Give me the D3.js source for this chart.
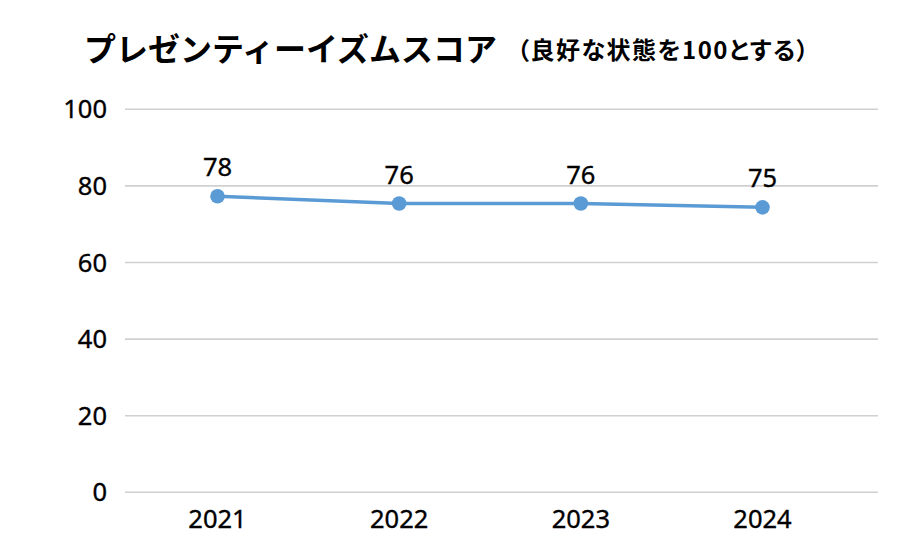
<!DOCTYPE html>
<html><head><meta charset="utf-8">
<script src="https://cdn.jsdelivr.net/npm/d3@7"></script>
<style>body{margin:0;background:#fff}svg{display:block}</style>
</head><body>
<svg id="c" width="900" height="552"></svg>
<script>
const categories = ["2021","2022","2023","2024"];
const values = [77.3, 75.4, 75.4, 74.4];
const valueLabels = ["78","76","76","75"];
const yTicks = [0,20,40,60,80,100];
const titleMain = "プレゼンティーイズムスコア";
const titleSub = "（良好な状態を100とする）";

const svg = d3.select("#c");
const x = d3.scalePoint().domain(categories).range([217.5, 762.5]);
const y = d3.scaleLinear().domain([0,100]).range([492.3,109.3]);
const gridL = 125, gridR = 878;
const numFont = "'Noto Sans', 'Open Sans', sans-serif";

function numText(sel){
  sel.attr("font-family", numFont).attr("font-size", 25.5)
    .attr("fill","#000").attr("stroke","#000").attr("stroke-width",0.35);
}

svg.append("g").selectAll("line").data(yTicks).join("line")
  .attr("x1", gridL).attr("x2", gridR)
  .attr("y1", d=>y(d)).attr("y2", d=>y(d))
  .attr("stroke", "#d0d0d0").attr("stroke-width", 1.6);

svg.append("g").selectAll("text").data(yTicks).join("text")
  .attr("x", 107).attr("y", d=>y(d)).attr("dy","0.36em")
  .attr("text-anchor","end").call(numText).text(d=>d);

svg.append("g").selectAll("text").data(categories).join("text")
  .attr("x", d=>x(d)).attr("y", 528)
  .attr("text-anchor","middle").call(numText).text(d=>d);

const line = d3.line().x((d,i)=>x(categories[i])).y(d=>y(d));
svg.append("path").datum(values).attr("d", line)
  .attr("fill","none").attr("stroke","#5B9BD5").attr("stroke-width",3.5);

svg.append("g").selectAll("circle").data(values).join("circle")
  .attr("cx",(d,i)=>x(categories[i])).attr("cy", d=>y(d)).attr("r",7.3)
  .attr("fill","#5B9BD5");

svg.append("g").selectAll("text").data(values).join("text")
  .attr("x",(d,i)=>x(categories[i])).attr("y", d=>y(d)-20)
  .attr("text-anchor","middle").call(numText).text((d,i)=>valueLabels[i]);

svg.append("text").attr("x", 84).attr("y", 61)
  .attr("font-family","'Noto Sans CJK JP', sans-serif").attr("fill","#000")
  .attr("font-size",32).attr("font-weight","bold").text(titleMain);
svg.append("text").attr("x", 517).attr("y", 59)
  .attr("font-family","'Noto Sans CJK JP', sans-serif").attr("fill","#000")
  .style("font-feature-settings","'palt' 1").style("letter-spacing","1.5px")
  .attr("font-size",24).attr("font-weight","bold").text(titleSub);
</script>
</body></html>
